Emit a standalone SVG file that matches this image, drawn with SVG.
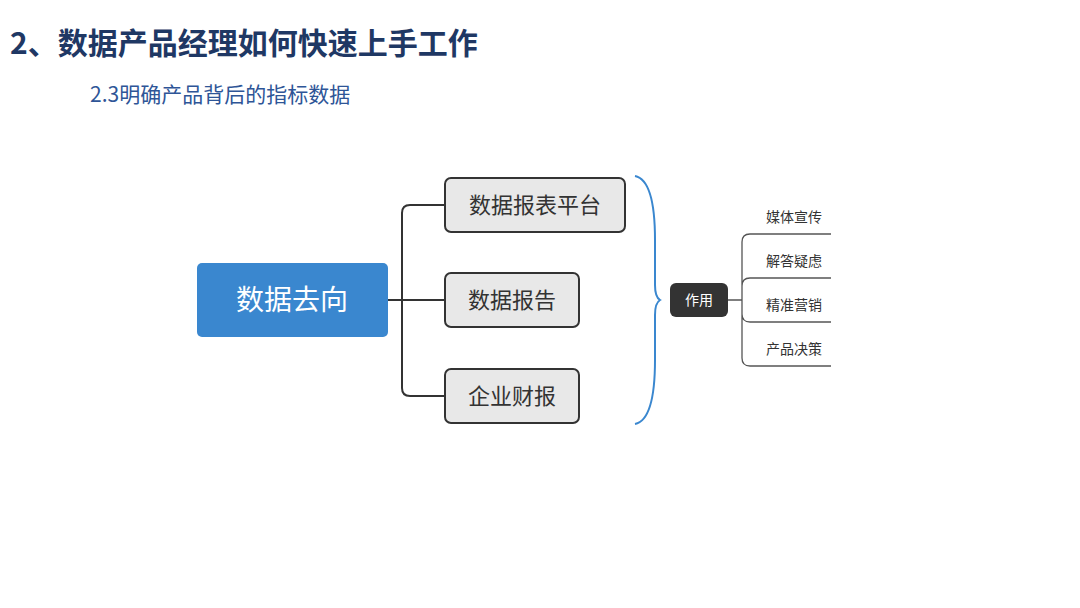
<svg xmlns="http://www.w3.org/2000/svg" width="1080" height="608" viewBox="0 0 1080 608">
<style>
text{font-family:"Noto Sans CJK SC","Noto Sans",sans-serif}
.box{fill:#e8e8e8;stroke:#333;stroke-width:2}
.bt{font-size:22px;fill:#333;text-anchor:middle}
.lt{font-size:14px;fill:#333;text-anchor:middle}
.ln{fill:none;stroke:#333;stroke-width:2}
.ln2{fill:none;stroke:#555;stroke-width:1.3}
</style>
<rect width="1080" height="608" fill="#fff"/>
<text x="10" y="54" font-size="30" font-weight="bold" fill="#1f3864">2、数据产品经理如何快速上手工作</text>
<text x="90" y="102" font-size="21" fill="#2e5597">2.3明确产品背后的指标数据</text>
<g id="connectors">
<path class="ln" d="M388 300H402M445 205H410Q402 205 402 213V388Q402 396 410 396H445M402 300H445"/>
<path d="M635 176Q655 180 655 240V285Q655 297 660 300Q655 303 655 315V360Q655 420 635 424" fill="none" stroke="#3a87cf" stroke-width="2"/>
<path class="ln2" d="M700 300H742M831 234H750Q742 234 742 242V358Q742 366 750 366H831M831 278H750Q742 278 742 286M831 322H750Q742 322 742 314"/>
</g>
<g id="n-center"><rect x="197" y="263" width="191" height="74" rx="5" fill="#3a87cf"/><text x="292" y="310" font-size="28" fill="#fff" text-anchor="middle">数据去向</text></g>
<g id="n1"><rect class="box" x="445" y="178" width="180" height="54" rx="6"/><text class="bt" x="535" y="213">数据报表平台</text></g>
<g id="n2"><rect class="box" x="445" y="273" width="134" height="54" rx="6"/><text class="bt" x="512" y="308">数据报告</text></g>
<g id="n3"><rect class="box" x="445" y="369" width="134" height="54" rx="6"/><text class="bt" x="512" y="404">企业财报</text></g>
<g id="n-use"><rect x="670" y="283" width="58" height="34" rx="6" fill="#333"/><text x="699" y="305" font-size="14" fill="#fff" text-anchor="middle">作用</text></g>
<g id="l1"><text class="lt" x="794" y="222">媒体宣传</text></g>
<g id="l2"><text class="lt" x="794" y="266">解答疑虑</text></g>
<g id="l3"><text class="lt" x="794" y="310">精准营销</text></g>
<g id="l4"><text class="lt" x="794" y="354">产品决策</text></g>
</svg>
